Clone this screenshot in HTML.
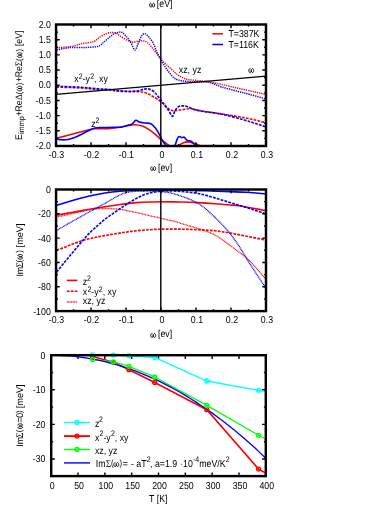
<!DOCTYPE html>
<html><head><meta charset="utf-8"><title>fig</title>
<style>
html,body{margin:0;padding:0;background:#fff;}
body{width:390px;height:505px;overflow:hidden;}
svg{display:block;will-change:transform;}
svg text.sy{font-family:"Liberation Serif",serif;}
svg text{white-space:pre;text-rendering:geometricPrecision;font-family:"Liberation Sans",sans-serif;font-size:8.8px;fill:#000;}
</style></head><body>
<svg width="390" height="505" viewBox="0 0 390 505">
<rect width="390" height="505" fill="#fff"/>
<clipPath id="c1"><rect x="56.05" y="24.50" width="209.95" height="121.50"/></clipPath>
<g clip-path="url(#c1)" fill="none">
<path d="M56.6 138.3C59.1 137.6 67.0 135.4 71.7 134.2C76.4 132.9 81.4 131.7 85.0 130.8C88.6 129.9 90.8 129.2 93.3 128.8C95.8 128.5 97.2 128.8 100.0 128.7C102.8 128.6 106.7 128.8 110.0 128.5C113.3 128.2 117.0 127.7 120.0 127.2C123.0 126.7 125.8 125.7 128.3 125.3C130.8 124.9 132.8 124.6 135.0 124.7C137.2 124.8 139.5 125.0 141.7 125.8C143.9 126.5 146.1 127.8 148.3 129.2C150.5 130.6 152.8 132.4 155.0 134.2C157.2 136.0 159.4 138.2 161.7 140.0C164.0 141.8 166.8 143.8 168.8 145.3C170.8 146.8 172.1 149.0 173.8 149.0C175.5 149.0 177.2 146.4 178.8 145.3C180.4 144.2 182.0 143.3 183.5 142.7C185.0 142.1 186.3 141.8 188.0 141.9C189.7 142.0 191.7 142.6 193.5 143.2C195.3 143.8 196.9 144.3 198.8 145.3C200.7 146.3 204.0 148.4 205.0 149.0" stroke="#ff0000" stroke-width="1.6"/>
<path d="M56.0 138.7C57.0 138.9 60.0 139.7 62.0 139.8C64.0 139.9 66.0 139.8 68.0 139.5C70.0 139.2 72.0 138.4 74.0 137.7C76.0 136.9 77.6 136.2 80.0 135.0C82.4 133.8 85.8 132.0 88.3 130.8C90.8 129.6 92.8 128.6 95.0 128.0C97.2 127.5 98.7 127.6 101.7 127.5C104.8 127.4 110.2 127.2 113.3 127.2C116.3 127.2 118.0 127.4 120.0 127.2C122.0 127.0 123.0 126.8 125.0 126.3C127.0 125.8 129.9 125.2 131.7 124.2C133.5 123.2 134.6 120.7 135.8 120.3C137.1 119.9 137.7 121.5 139.2 122.0C140.7 122.5 143.1 122.7 145.0 123.0C146.9 123.3 149.1 123.0 150.8 123.7C152.5 124.5 153.6 125.8 155.0 127.5C156.4 129.2 157.9 132.0 159.2 134.2C160.4 136.4 161.4 139.0 162.5 140.8C163.6 142.7 164.5 143.4 165.8 145.3C167.1 147.2 169.0 152.0 170.5 152.0C172.0 152.0 173.9 147.5 175.0 145.3C176.1 143.1 176.6 140.3 177.3 138.8C178.0 137.3 178.5 136.7 179.3 136.5C180.1 136.3 181.1 137.5 181.9 137.6C182.7 137.7 183.3 136.8 184.2 137.3C185.1 137.8 186.1 139.8 187.3 140.4C188.5 141.1 189.9 140.4 191.2 141.2C192.5 142.0 193.9 144.0 195.0 145.3C196.1 146.6 197.5 148.4 198.0 149.0" stroke="#0000ff" stroke-width="1.6"/>
<path d="M56.6 87.0C60.5 87.2 73.3 87.6 80.0 88.0C86.7 88.4 91.7 89.1 96.7 89.5C101.7 89.9 106.1 90.0 110.0 90.3C113.9 90.6 116.7 91.1 120.0 91.3C123.3 91.5 126.7 91.6 130.0 91.7C133.3 91.8 137.2 91.4 140.0 91.7C142.8 92.0 144.5 92.5 146.7 93.3C148.9 94.1 151.1 95.4 153.3 96.7C155.5 98.0 158.1 99.6 160.0 101.0C161.9 102.4 163.5 103.9 165.0 105.3C166.5 106.7 167.8 108.3 169.2 109.2C170.6 110.1 171.8 110.6 173.3 110.8C174.8 111.0 176.4 110.6 178.3 110.3C180.2 110.0 182.8 109.5 185.0 109.2C187.2 109.0 189.5 108.6 191.7 108.8C193.9 109.0 195.2 109.7 198.3 110.3C201.4 110.9 205.3 111.5 210.0 112.2C214.7 112.9 221.1 113.8 226.7 114.7C232.2 115.6 238.6 116.6 243.3 117.5C248.0 118.4 251.2 119.1 255.0 120.0C258.8 120.9 264.2 122.3 266.0 122.8" stroke="#ff0000" stroke-width="1.65" stroke-dasharray="2.8 1.2"/>
<path d="M56.6 86.3C60.5 86.5 73.3 86.8 80.0 87.2C86.7 87.6 91.7 88.3 96.7 88.7C101.7 89.1 106.1 89.2 110.0 89.5C113.9 89.8 116.7 90.5 120.0 90.8C123.3 91.1 127.0 91.3 130.0 91.3C133.1 91.3 135.9 91.2 138.3 90.8C140.7 90.4 142.4 89.4 144.2 89.1C146.0 88.8 147.5 88.6 149.2 89.1C150.9 89.6 152.7 90.7 154.2 92.0C155.7 93.3 156.8 94.8 158.3 96.7C159.8 98.6 161.6 101.1 163.3 103.3C165.0 105.5 166.8 107.8 168.3 110.0C169.8 112.2 171.4 116.2 172.5 116.3C173.6 116.4 174.0 112.4 175.0 110.8C176.0 109.2 176.9 107.5 178.3 106.7C179.7 105.9 181.6 105.8 183.3 105.8C185.0 105.8 186.4 106.3 188.3 107.0C190.2 107.7 192.2 108.9 195.0 109.7C197.8 110.5 201.7 111.2 205.0 111.7C208.3 112.2 211.4 112.4 215.0 113.0C218.6 113.6 222.0 114.2 226.7 115.3C231.4 116.4 238.6 118.4 243.3 119.7C248.0 121.0 251.2 122.1 255.0 123.3C258.8 124.5 264.2 126.4 266.0 127.0" stroke="#0000ff" stroke-width="1.65" stroke-dasharray="2.8 1.2"/>
<path d="M56.6 47.8C59.1 47.5 67.5 47.0 71.7 46.3C75.9 45.6 78.1 44.5 81.7 43.7C85.3 42.9 90.2 42.8 93.3 41.7C96.3 40.6 97.8 38.4 100.0 37.0C102.2 35.6 104.8 34.2 106.7 33.5C108.7 32.8 110.2 32.6 111.7 32.5C113.2 32.4 114.4 32.5 115.8 33.0C117.2 33.5 118.2 34.6 120.0 35.8C121.8 37.0 124.6 38.9 126.7 40.0C128.8 41.1 130.6 42.0 132.5 42.2C134.4 42.4 136.5 41.4 138.3 41.2C140.1 41.0 141.6 40.4 143.3 40.8C145.0 41.1 146.6 41.9 148.3 43.3C150.0 44.7 151.6 47.1 153.3 49.2C155.0 51.3 157.1 54.1 158.3 55.8C159.6 57.5 159.4 57.7 160.8 59.2C162.2 60.7 164.9 63.3 166.7 65.0C168.5 66.7 170.0 68.0 171.7 69.5C173.4 71.0 175.0 72.7 176.7 74.0C178.4 75.3 179.8 76.4 181.7 77.3C183.6 78.2 185.5 79.0 188.3 79.6C191.1 80.1 195.0 80.2 198.3 80.6C201.6 80.9 204.4 81.1 208.3 81.7C212.2 82.3 216.7 83.3 221.7 84.4C226.7 85.5 232.8 87.0 238.3 88.3C243.9 89.6 250.4 91.0 255.0 92.0C259.6 93.0 264.2 94.1 266.0 94.5" stroke="#ff0000" stroke-width="1.45" stroke-dasharray="1.3 0.95"/>
<path d="M56.6 50.0C58.0 49.7 62.5 48.7 65.0 48.3C67.5 47.9 68.4 47.6 71.7 47.5C75.0 47.4 80.6 47.7 85.0 47.5C89.4 47.3 95.2 47.1 98.3 46.3C101.3 45.5 101.6 43.8 103.3 42.5C105.0 41.2 106.6 39.7 108.3 38.3C110.0 36.9 111.8 35.2 113.3 34.2C114.8 33.2 116.1 32.8 117.5 32.5C118.9 32.2 120.3 31.7 121.7 32.2C123.1 32.8 124.3 34.1 125.8 35.8C127.3 37.5 129.3 40.1 130.8 42.5C132.3 44.9 133.8 49.9 135.0 50.0C136.2 50.1 137.2 45.7 138.3 43.3C139.4 40.9 140.6 37.4 141.7 35.8C142.8 34.2 143.8 33.4 145.0 33.7C146.2 34.0 147.8 35.9 149.2 37.5C150.6 39.1 152.1 40.9 153.3 43.3C154.6 45.7 155.4 49.1 156.7 51.7C157.9 54.4 159.4 56.7 160.8 59.2C162.2 61.7 163.6 64.5 165.0 66.7C166.4 68.9 167.8 70.7 169.2 72.5C170.6 74.3 171.8 76.0 173.3 77.3C174.8 78.5 175.8 79.3 178.3 80.0C180.8 80.7 184.4 81.2 188.3 81.5C192.2 81.8 198.1 81.8 201.7 82.0C205.3 82.2 206.7 81.8 210.0 82.6C213.3 83.4 217.0 85.5 221.7 87.0C226.4 88.5 233.6 90.2 238.3 91.5C243.0 92.8 245.4 93.2 250.0 94.5C254.6 95.8 263.3 98.2 266.0 99.0" stroke="#0000ff" stroke-width="1.45" stroke-dasharray="1.3 0.95"/>
</g>
<path d="M56.05 94.40L266.00 76.20" stroke="#000" stroke-width="1.3"/>
<path d="M160.80 24.50V146.00" stroke="#000" stroke-width="1.4"/>
<path d="M91.04 146.00v-3.70M91.04 24.50v3.70" stroke="#000" stroke-width="1.4" fill="none"/>
<path d="M126.03 146.00v-3.70M126.03 24.50v3.70" stroke="#000" stroke-width="1.4" fill="none"/>
<path d="M161.02 146.00v-3.70M161.02 24.50v3.70" stroke="#000" stroke-width="1.4" fill="none"/>
<path d="M196.02 146.00v-3.70M196.02 24.50v3.70" stroke="#000" stroke-width="1.4" fill="none"/>
<path d="M231.01 146.00v-3.70M231.01 24.50v3.70" stroke="#000" stroke-width="1.4" fill="none"/>
<path d="M73.55 146.00v-1.90M73.55 24.50v1.90" stroke="#000" stroke-width="1.4" fill="none"/>
<path d="M108.54 146.00v-1.90M108.54 24.50v1.90" stroke="#000" stroke-width="1.4" fill="none"/>
<path d="M143.53 146.00v-1.90M143.53 24.50v1.90" stroke="#000" stroke-width="1.4" fill="none"/>
<path d="M178.52 146.00v-1.90M178.52 24.50v1.90" stroke="#000" stroke-width="1.4" fill="none"/>
<path d="M213.51 146.00v-1.90M213.51 24.50v1.90" stroke="#000" stroke-width="1.4" fill="none"/>
<path d="M248.50 146.00v-1.90M248.50 24.50v1.90" stroke="#000" stroke-width="1.4" fill="none"/>
<path d="M56.05 130.81h3.70M266.00 130.81h-3.70" stroke="#000" stroke-width="1.4" fill="none"/>
<path d="M56.05 115.62h3.70M266.00 115.62h-3.70" stroke="#000" stroke-width="1.4" fill="none"/>
<path d="M56.05 100.44h3.70M266.00 100.44h-3.70" stroke="#000" stroke-width="1.4" fill="none"/>
<path d="M56.05 85.25h3.70M266.00 85.25h-3.70" stroke="#000" stroke-width="1.4" fill="none"/>
<path d="M56.05 70.06h3.70M266.00 70.06h-3.70" stroke="#000" stroke-width="1.4" fill="none"/>
<path d="M56.05 54.88h3.70M266.00 54.88h-3.70" stroke="#000" stroke-width="1.4" fill="none"/>
<path d="M56.05 39.69h3.70M266.00 39.69h-3.70" stroke="#000" stroke-width="1.4" fill="none"/>
<path d="M56.05 138.41h1.90M266.00 138.41h-1.90" stroke="#000" stroke-width="1.4" fill="none"/>
<path d="M56.05 123.22h1.90M266.00 123.22h-1.90" stroke="#000" stroke-width="1.4" fill="none"/>
<path d="M56.05 108.03h1.90M266.00 108.03h-1.90" stroke="#000" stroke-width="1.4" fill="none"/>
<path d="M56.05 92.84h1.90M266.00 92.84h-1.90" stroke="#000" stroke-width="1.4" fill="none"/>
<path d="M56.05 77.66h1.90M266.00 77.66h-1.90" stroke="#000" stroke-width="1.4" fill="none"/>
<path d="M56.05 62.47h1.90M266.00 62.47h-1.90" stroke="#000" stroke-width="1.4" fill="none"/>
<path d="M56.05 47.28h1.90M266.00 47.28h-1.90" stroke="#000" stroke-width="1.4" fill="none"/>
<path d="M56.05 32.09h1.90M266.00 32.09h-1.90" stroke="#000" stroke-width="1.4" fill="none"/>
<rect x="56.05" y="24.50" width="209.95" height="121.50" fill="none" stroke="#000" stroke-width="2.45"/>
<text transform="translate(50.90,149.40) scale(1.000,1.140)" text-anchor="end" >-2.0</text>
<text transform="translate(50.90,134.21) scale(1.000,1.140)" text-anchor="end" >-1.5</text>
<text transform="translate(50.90,119.03) scale(1.000,1.140)" text-anchor="end" >-1.0</text>
<text transform="translate(50.90,103.84) scale(1.000,1.140)" text-anchor="end" >-0.5</text>
<text transform="translate(50.90,88.25) scale(1.000,1.140)" text-anchor="end" >0.0</text>
<text transform="translate(50.90,73.46) scale(1.000,1.140)" text-anchor="end" >0.5</text>
<text transform="translate(50.90,58.27) scale(1.000,1.140)" text-anchor="end" >1.0</text>
<text transform="translate(50.90,43.09) scale(1.000,1.140)" text-anchor="end" >1.5</text>
<text transform="translate(50.90,27.90) scale(1.000,1.140)" text-anchor="end" >2.0</text>
<text transform="translate(56.45,157.90) scale(1.000,1.140)" text-anchor="middle" >-0.3</text>
<text transform="translate(91.44,157.90) scale(1.000,1.140)" text-anchor="middle" >-0.2</text>
<text transform="translate(126.43,157.90) scale(1.000,1.140)" text-anchor="middle" >-0.1</text>
<text transform="translate(161.92,157.90) scale(1.000,1.140)" text-anchor="middle" >0</text>
<text transform="translate(196.92,157.90) scale(1.000,1.140)" text-anchor="middle" >0.1</text>
<text transform="translate(231.91,157.90) scale(1.000,1.140)" text-anchor="middle" >0.2</text>
<text transform="translate(266.90,157.90) scale(1.000,1.140)" text-anchor="middle" >0.3</text>
<g transform="translate(160.80,7.00) scale(1,1.140) translate(-11.70,0)"><path d="M 1.70 -3.57 C 0.77 -3.41 0.25 -2.00 0.56 -0.91 C 0.82 0.14 2.12 0.38 2.59 -0.43 C 2.90 -0.99 2.95 -2.00 2.95 -2.69 C 2.95 -2.00 3.00 -0.99 3.31 -0.43 C 3.78 0.38 5.08 0.14 5.34 -0.91 C 5.65 -2.00 5.13 -3.41 4.20 -3.57" fill="none" stroke="#000" stroke-width="0.85" stroke-linecap="round"/><text x="5.30" y="0"> [eV]</text></g>
<g transform="translate(161.20,170.50) scale(1,1.140) translate(-10.96,0)"><path d="M 1.70 -3.57 C 0.77 -3.41 0.25 -2.00 0.56 -0.91 C 0.82 0.14 2.12 0.38 2.59 -0.43 C 2.90 -0.99 2.95 -2.00 2.95 -2.69 C 2.95 -2.00 3.00 -0.99 3.31 -0.43 C 3.78 0.38 5.08 0.14 5.34 -0.91 C 5.65 -2.00 5.13 -3.41 4.20 -3.57" fill="none" stroke="#000" stroke-width="0.85" stroke-linecap="round"/><text x="5.30" y="0"> [ev]</text></g>
<path d="M212.4 33.8H223" stroke="#ff0000" stroke-width="1.5"/>
<path d="M212.4 44.5H223" stroke="#0000ff" stroke-width="1.5"/>
<text transform="translate(228.40,36.60) scale(1.000,1.140)" text-anchor="start" >T=387K</text>
<text transform="translate(228.40,47.90) scale(1.000,1.140)" text-anchor="start" >T=116K</text>
<g transform="translate(74.20,82.10) scale(1,1.140) translate(0.00,0)"><text x="0.00" y="0">x</text><text x="4.60" y="-3.16" style="font-size:7.0px">2</text><text x="8.49" y="0">-y</text><text x="16.02" y="-3.16" style="font-size:7.0px">2</text><text x="19.92" y="0">, xy</text></g>
<text transform="translate(178.80,73.00) scale(1.000,1.140)" text-anchor="start" >xz, yz</text>
<g transform="translate(91.30,126.70) scale(1,1.140) translate(0.00,0)"><text x="0.00" y="0">z</text><text x="4.20" y="-3.16" style="font-size:7.0px">2</text></g>
<g transform="translate(248.30,72.50) scale(1,1.140) translate(0.00,0)"><path d="M 1.70 -3.57 C 0.77 -3.41 0.25 -2.00 0.56 -0.91 C 0.82 0.14 2.12 0.38 2.59 -0.43 C 2.90 -0.99 2.95 -2.00 2.95 -2.69 C 2.95 -2.00 3.00 -0.99 3.31 -0.43 C 3.78 0.38 5.08 0.14 5.34 -0.91 C 5.65 -2.00 5.13 -3.41 4.20 -3.57" fill="none" stroke="#000" stroke-width="0.85" stroke-linecap="round"/></g>
<g transform="translate(22.00,140.10) rotate(-90) scale(1,1.090) translate(0.00,0)"><text x="0.00" y="0">E</text><text x="6.10" y="2.11" style="font-size:7.3px">immp</text><text x="23.95" y="0">+</text><text x="28.50" y="0">Re</text><text x="40.10" y="0" class="sy" style="font-size:9px">Δ</text><text x="45.85" y="-0.20" style="font-size:7.8px">(</text><path d="M 50.37 -4.51 C 49.49 -4.31 49.00 -2.55 49.30 -1.18 C 49.54 0.13 50.77 0.43 51.21 -0.58 C 51.50 -1.28 51.55 -2.55 51.55 -3.40 C 51.55 -2.55 51.60 -1.28 51.89 -0.58 C 52.33 0.43 53.56 0.13 53.80 -1.18 C 54.10 -2.55 53.61 -4.31 52.73 -4.51" fill="none" stroke="#000" stroke-width="0.85" stroke-linecap="round"/><text x="54.80" y="-0.20" style="font-size:7.8px">)</text><text x="58.05" y="0">+</text><text x="62.80" y="0">Re</text><text x="73.90" y="0" class="sy" style="font-size:9.1px">Σ</text><text x="79.20" y="-0.20" style="font-size:7.8px">(</text><path d="M 83.87 -4.51 C 82.99 -4.31 82.50 -2.55 82.80 -1.18 C 83.04 0.13 84.27 0.43 84.71 -0.58 C 85.00 -1.28 85.05 -2.55 85.05 -3.40 C 85.05 -2.55 85.10 -1.28 85.39 -0.58 C 85.83 0.43 87.06 0.13 87.30 -1.18 C 87.60 -2.55 87.11 -4.31 86.23 -4.51" fill="none" stroke="#000" stroke-width="0.85" stroke-linecap="round"/><text x="88.50" y="-0.20" style="font-size:7.8px">)</text><text x="93.95" y="0">[eV]</text></g>
<clipPath id="c2"><rect x="56.05" y="189.50" width="209.95" height="121.60"/></clipPath>
<g clip-path="url(#c2)" fill="none">
<path d="M56.6 215.2C59.1 214.8 66.4 213.4 71.7 212.5C77.0 211.6 82.8 210.5 88.3 209.5C93.8 208.5 99.7 207.5 105.0 206.7C110.3 205.9 114.7 205.2 120.0 204.5C125.3 203.8 131.7 203.0 136.7 202.6C141.7 202.2 145.8 202.1 150.0 202.0C154.2 201.9 156.4 201.8 161.7 201.8C167.0 201.8 175.6 201.9 181.7 202.0C187.8 202.1 192.8 202.3 198.3 202.6C203.9 202.9 209.7 203.3 215.0 203.7C220.3 204.1 226.1 204.7 230.0 205.0C233.9 205.3 234.7 205.3 238.3 205.8C241.9 206.3 247.1 207.2 251.7 208.0C256.3 208.8 263.6 210.2 266.0 210.7" stroke="#ff0000" stroke-width="1.6"/>
<path d="M56.6 250.3C58.5 249.6 64.1 247.4 68.3 245.8C72.5 244.2 77.2 242.2 81.7 240.8C86.2 239.4 90.6 238.5 95.0 237.5C99.4 236.5 103.6 235.8 108.3 235.0C113.0 234.2 118.6 233.2 123.3 232.5C128.0 231.8 132.2 231.3 136.7 230.8C141.1 230.3 145.8 230.0 150.0 229.7C154.2 229.4 156.4 229.3 161.7 229.2C167.0 229.1 175.6 229.1 181.7 229.2C187.8 229.3 192.8 229.4 198.3 229.7C203.9 230.0 209.7 230.2 215.0 230.8C220.3 231.4 224.7 232.1 230.0 233.0C235.3 233.9 240.7 235.1 246.7 236.3C252.7 237.5 262.8 239.4 266.0 240.0" stroke="#ff0000" stroke-width="1.65" stroke-dasharray="2.8 1.2"/>
<path d="M56.6 216.9C59.1 216.4 66.4 214.8 71.7 213.7C77.0 212.5 84.1 210.8 88.3 210.0C92.5 209.2 93.9 209.1 96.7 208.8C99.5 208.6 101.1 208.4 105.0 208.5C108.9 208.6 115.8 208.8 120.0 209.3C124.2 209.8 126.7 210.6 130.0 211.3C133.3 212.0 136.7 212.6 140.0 213.3C143.3 214.1 146.7 215.0 150.0 215.8C153.3 216.6 156.9 217.3 160.0 218.0C163.1 218.7 165.8 219.4 168.3 220.0C170.8 220.6 172.2 220.7 175.0 221.5C177.8 222.3 181.7 223.7 185.0 224.7C188.3 225.7 191.7 226.5 195.0 227.5C198.3 228.5 201.7 229.6 205.0 230.8C208.3 232.1 211.7 233.2 215.0 235.0C218.3 236.8 221.7 239.3 225.0 241.7C228.3 244.1 231.7 246.7 235.0 249.2C238.3 251.7 241.7 253.8 245.0 256.7C248.3 259.6 251.5 262.9 255.0 266.7C258.5 270.5 264.2 277.4 266.0 279.5" stroke="#ff0000" stroke-width="1.35" stroke-dasharray="0.9 0.6"/>
<path d="M56.6 205.3C59.1 204.6 66.4 202.3 71.7 200.8C77.0 199.3 82.8 197.6 88.3 196.3C93.8 195.0 99.7 193.8 105.0 193.0C110.3 192.2 115.8 191.6 120.0 191.2C124.2 190.8 125.8 190.8 130.0 190.6C134.2 190.4 137.5 190.2 145.0 190.1C152.5 190.0 165.0 189.9 175.0 190.0C185.0 190.1 195.8 190.5 205.0 190.8C214.2 191.1 223.1 191.4 230.0 191.7C236.9 191.9 240.7 191.9 246.7 192.3C252.7 192.7 262.8 193.7 266.0 194.0" stroke="#0000ff" stroke-width="1.6"/>
<path d="M56.6 272.0C58.0 270.3 62.2 265.1 65.0 261.7C67.8 258.3 70.5 255.0 73.3 251.7C76.1 248.4 78.9 244.9 81.7 241.7C84.5 238.5 87.2 235.3 90.0 232.5C92.8 229.7 95.8 227.2 98.3 225.0C100.8 222.8 102.5 221.1 105.0 219.2C107.5 217.2 110.8 215.1 113.3 213.3C115.8 211.6 117.8 210.2 120.0 208.7C122.2 207.2 124.2 205.8 126.7 204.2C129.2 202.6 132.2 200.7 135.0 199.2C137.8 197.7 140.5 196.1 143.3 195.0C146.1 193.9 148.9 193.1 151.7 192.5C154.5 191.9 157.2 191.6 160.0 191.3C162.8 191.0 164.7 190.8 168.3 190.8C171.9 190.8 177.2 191.1 181.7 191.5C186.1 191.9 190.8 192.3 195.0 193.0C199.2 193.7 202.2 194.3 206.7 195.5C211.1 196.7 216.4 198.4 221.7 200.0C227.0 201.6 233.3 203.5 238.3 205.0C243.3 206.5 247.1 207.7 251.7 209.2C256.3 210.7 263.6 213.2 266.0 214.0" stroke="#0000ff" stroke-width="1.65" stroke-dasharray="2.8 1.2"/>
<path d="M56.6 230.5C59.1 229.0 66.4 224.7 71.7 221.7C77.0 218.7 82.8 215.6 88.3 212.5C93.8 209.4 100.0 206.1 105.0 203.3C110.0 200.5 114.7 197.6 118.3 195.8C121.9 194.0 123.9 193.2 126.7 192.5C129.5 191.8 131.7 191.6 135.0 191.3C138.3 191.1 142.5 190.9 146.7 191.0C150.9 191.1 156.4 191.4 160.0 191.7C163.6 191.9 165.8 192.1 168.3 192.5C170.8 192.9 172.2 193.4 175.0 194.2C177.8 195.0 181.7 196.2 185.0 197.5C188.3 198.8 191.7 199.9 195.0 201.7C198.3 203.5 201.7 205.7 205.0 208.3C208.3 210.9 211.9 214.6 215.0 217.5C218.1 220.4 220.8 223.1 223.3 225.8C225.8 228.5 227.5 230.3 230.0 233.5C232.5 236.7 235.8 241.3 238.3 245.0C240.8 248.7 242.8 252.2 245.0 255.8C247.2 259.4 249.5 263.2 251.7 266.7C253.9 270.2 255.9 273.1 258.3 276.7C260.7 280.3 264.7 286.5 266.0 288.5" stroke="#0000ff" stroke-width="1.35" stroke-dasharray="0.9 0.6"/>
</g>
<path d="M160.80 189.50V311.10" stroke="#000" stroke-width="1.4"/>
<path d="M91.04 311.10v-3.70M91.04 189.50v3.70" stroke="#000" stroke-width="1.4" fill="none"/>
<path d="M126.03 311.10v-3.70M126.03 189.50v3.70" stroke="#000" stroke-width="1.4" fill="none"/>
<path d="M161.02 311.10v-3.70M161.02 189.50v3.70" stroke="#000" stroke-width="1.4" fill="none"/>
<path d="M196.02 311.10v-3.70M196.02 189.50v3.70" stroke="#000" stroke-width="1.4" fill="none"/>
<path d="M231.01 311.10v-3.70M231.01 189.50v3.70" stroke="#000" stroke-width="1.4" fill="none"/>
<path d="M73.55 311.10v-1.90M73.55 189.50v1.90" stroke="#000" stroke-width="1.4" fill="none"/>
<path d="M108.54 311.10v-1.90M108.54 189.50v1.90" stroke="#000" stroke-width="1.4" fill="none"/>
<path d="M143.53 311.10v-1.90M143.53 189.50v1.90" stroke="#000" stroke-width="1.4" fill="none"/>
<path d="M178.52 311.10v-1.90M178.52 189.50v1.90" stroke="#000" stroke-width="1.4" fill="none"/>
<path d="M213.51 311.10v-1.90M213.51 189.50v1.90" stroke="#000" stroke-width="1.4" fill="none"/>
<path d="M248.50 311.10v-1.90M248.50 189.50v1.90" stroke="#000" stroke-width="1.4" fill="none"/>
<path d="M56.05 286.78h3.70M266.00 286.78h-3.70" stroke="#000" stroke-width="1.4" fill="none"/>
<path d="M56.05 262.46h3.70M266.00 262.46h-3.70" stroke="#000" stroke-width="1.4" fill="none"/>
<path d="M56.05 238.14h3.70M266.00 238.14h-3.70" stroke="#000" stroke-width="1.4" fill="none"/>
<path d="M56.05 213.82h3.70M266.00 213.82h-3.70" stroke="#000" stroke-width="1.4" fill="none"/>
<path d="M56.05 298.94h1.90M266.00 298.94h-1.90" stroke="#000" stroke-width="1.4" fill="none"/>
<path d="M56.05 274.62h1.90M266.00 274.62h-1.90" stroke="#000" stroke-width="1.4" fill="none"/>
<path d="M56.05 250.30h1.90M266.00 250.30h-1.90" stroke="#000" stroke-width="1.4" fill="none"/>
<path d="M56.05 225.98h1.90M266.00 225.98h-1.90" stroke="#000" stroke-width="1.4" fill="none"/>
<path d="M56.05 201.66h1.90M266.00 201.66h-1.90" stroke="#000" stroke-width="1.4" fill="none"/>
<rect x="56.05" y="189.50" width="209.95" height="121.60" fill="none" stroke="#000" stroke-width="2.45"/>
<text transform="translate(50.80,314.50) scale(1.000,1.140)" text-anchor="end" >-100</text>
<text transform="translate(50.80,290.18) scale(1.000,1.140)" text-anchor="end" >-80</text>
<text transform="translate(50.80,265.86) scale(1.000,1.140)" text-anchor="end" >-60</text>
<text transform="translate(50.80,241.54) scale(1.000,1.140)" text-anchor="end" >-40</text>
<text transform="translate(50.80,217.22) scale(1.000,1.140)" text-anchor="end" >-20</text>
<text transform="translate(50.80,192.90) scale(1.000,1.140)" text-anchor="end" >0</text>
<text transform="translate(56.45,323.00) scale(1.000,1.140)" text-anchor="middle" >-0.3</text>
<text transform="translate(91.44,323.00) scale(1.000,1.140)" text-anchor="middle" >-0.2</text>
<text transform="translate(126.43,323.00) scale(1.000,1.140)" text-anchor="middle" >-0.1</text>
<text transform="translate(161.92,323.00) scale(1.000,1.140)" text-anchor="middle" >0</text>
<text transform="translate(196.92,323.00) scale(1.000,1.140)" text-anchor="middle" >0.1</text>
<text transform="translate(231.91,323.00) scale(1.000,1.140)" text-anchor="middle" >0.2</text>
<text transform="translate(266.90,323.00) scale(1.000,1.140)" text-anchor="middle" >0.3</text>
<g transform="translate(161.20,337.40) scale(1,1.140) translate(-10.96,0)"><path d="M 1.70 -3.57 C 0.77 -3.41 0.25 -2.00 0.56 -0.91 C 0.82 0.14 2.12 0.38 2.59 -0.43 C 2.90 -0.99 2.95 -2.00 2.95 -2.69 C 2.95 -2.00 3.00 -0.99 3.31 -0.43 C 3.78 0.38 5.08 0.14 5.34 -0.91 C 5.65 -2.00 5.13 -3.41 4.20 -3.57" fill="none" stroke="#000" stroke-width="0.85" stroke-linecap="round"/><text x="5.30" y="0"> [ev]</text></g>
<path d="M66.8 280.4H77.4" stroke="#ff0000" stroke-width="1.6"/>
<path d="M66.8 291.2H77.4" stroke="#ff0000" stroke-width="1.65" stroke-dasharray="2.8 1.2"/>
<path d="M66.8 302H77.4" stroke="#ff0000" stroke-width="1.35" stroke-dasharray="0.9 0.6"/>
<g transform="translate(82.80,284.70) scale(1,1.140) translate(0.00,0)"><text x="0.00" y="0">z</text><text x="4.20" y="-3.16" style="font-size:7.0px">2</text></g>
<g transform="translate(82.80,295.20) scale(1,1.140) translate(0.00,0)"><text x="0.00" y="0">x</text><text x="4.60" y="-3.16" style="font-size:7.0px">2</text><text x="8.49" y="0">-y</text><text x="16.02" y="-3.16" style="font-size:7.0px">2</text><text x="19.92" y="0">, xy</text></g>
<text transform="translate(82.80,304.40) scale(1.000,1.140)" text-anchor="start" >xz, yz</text>
<g transform="translate(22.50,276.60) rotate(-90) scale(1,1.090) translate(0.00,0)"><text x="0.00" y="0">Im</text><text x="9.00" y="0" class="sy" style="font-size:9.1px">Σ</text><text x="14.10" y="-0.20" style="font-size:7.8px">(</text><path d="M 18.57 -4.51 C 17.69 -4.31 17.20 -2.55 17.50 -1.18 C 17.74 0.13 18.97 0.43 19.41 -0.58 C 19.70 -1.28 19.75 -2.55 19.75 -3.40 C 19.75 -2.55 19.80 -1.28 20.09 -0.58 C 20.53 0.43 21.76 0.13 22.00 -1.18 C 22.30 -2.55 21.81 -4.31 20.93 -4.51" fill="none" stroke="#000" stroke-width="0.85" stroke-linecap="round"/><text x="23.90" y="-0.20" style="font-size:7.8px">)</text><text transform="translate(29.20,0) scale(1.040,1)">[meV]</text></g>
<path d="M78.03 476.10v-3.70M78.03 355.20v3.70" stroke="#000" stroke-width="1.4" fill="none"/>
<path d="M104.85 476.10v-3.70M104.85 355.20v3.70" stroke="#000" stroke-width="1.4" fill="none"/>
<path d="M131.68 476.10v-3.70M131.68 355.20v3.70" stroke="#000" stroke-width="1.4" fill="none"/>
<path d="M158.50 476.10v-3.70M158.50 355.20v3.70" stroke="#000" stroke-width="1.4" fill="none"/>
<path d="M185.32 476.10v-3.70M185.32 355.20v3.70" stroke="#000" stroke-width="1.4" fill="none"/>
<path d="M212.15 476.10v-3.70M212.15 355.20v3.70" stroke="#000" stroke-width="1.4" fill="none"/>
<path d="M238.98 476.10v-3.70M238.98 355.20v3.70" stroke="#000" stroke-width="1.4" fill="none"/>
<path d="M51.20 459.00h3.70M265.80 459.00h-3.70" stroke="#000" stroke-width="1.4" fill="none"/>
<path d="M51.20 424.40h3.70M265.80 424.40h-3.70" stroke="#000" stroke-width="1.4" fill="none"/>
<path d="M51.20 389.80h3.70M265.80 389.80h-3.70" stroke="#000" stroke-width="1.4" fill="none"/>
<path d="M51.20 441.70h1.90M265.80 441.70h-1.90" stroke="#000" stroke-width="1.4" fill="none"/>
<path d="M51.20 407.10h1.90M265.80 407.10h-1.90" stroke="#000" stroke-width="1.4" fill="none"/>
<path d="M51.20 372.50h1.90M265.80 372.50h-1.90" stroke="#000" stroke-width="1.4" fill="none"/>
<clipPath id="c3"><rect x="51.20" y="350.20" width="214.60" height="125.90"/></clipPath>
<g clip-path="url(#c3)" fill="none" stroke-width="1.3">
<path d="M92.5 354.8L113.4 355.1L129.0 355.8L154.7 357.5L206.8 381.0L258.6 390.3L265.8 391.5" stroke="#00ffff"/>
<path d="M92.5 356.6L113.4 362.3L129.0 369.7L154.7 382.5L206.8 409.7L258.6 469.1L265.8 473.1" stroke="#ff0000" stroke-width="1.6"/>
<path d="M92.5 359.5L113.4 361.9L129.0 366.3L154.7 377.0L206.8 405.4L258.6 435.3L265.8 439.3" stroke="#00ff00"/>
<path d="M51.2 355.2L56.6 355.3L61.9 355.5L67.3 355.8L72.7 356.2L78.0 356.8L83.4 357.5L88.8 358.4L94.1 359.3L99.5 360.4L104.9 361.6L110.2 363.0L115.6 364.5L120.9 366.1L126.3 367.8L131.7 369.7L137.0 371.7L142.4 373.8L147.8 376.1L153.1 378.4L158.5 380.9L163.9 383.6L169.2 386.3L174.6 389.2L180.0 392.3L185.3 395.4L190.7 398.7L196.1 402.1L201.4 405.7L206.8 409.3L212.2 413.1L217.5 417.0L222.9 421.1L228.2 425.3L233.6 429.6L239.0 434.0L244.3 438.6L249.7 443.3L255.1 448.1L260.4 453.1L265.8 458.2" stroke="#0000ff"/>
</g>
<circle cx="92.5" cy="354.8" r="2.0" fill="#00ffff" fill-opacity="0.35" stroke="#00ffff" stroke-width="1.3"/>
<circle cx="113.4" cy="355.1" r="2.0" fill="#00ffff" fill-opacity="0.35" stroke="#00ffff" stroke-width="1.3"/>
<circle cx="129.0" cy="355.8" r="2.0" fill="#00ffff" fill-opacity="0.35" stroke="#00ffff" stroke-width="1.3"/>
<circle cx="154.7" cy="357.5" r="2.0" fill="#00ffff" fill-opacity="0.35" stroke="#00ffff" stroke-width="1.3"/>
<circle cx="206.8" cy="381.0" r="2.0" fill="#00ffff" fill-opacity="0.35" stroke="#00ffff" stroke-width="1.3"/>
<circle cx="258.6" cy="390.3" r="2.0" fill="#00ffff" fill-opacity="0.35" stroke="#00ffff" stroke-width="1.3"/>
<circle cx="92.5" cy="356.6" r="2.0" fill="#ff0000" fill-opacity="0.35" stroke="#ff0000" stroke-width="1.3"/>
<circle cx="113.4" cy="362.3" r="2.0" fill="#ff0000" fill-opacity="0.35" stroke="#ff0000" stroke-width="1.3"/>
<circle cx="129.0" cy="369.7" r="2.0" fill="#ff0000" fill-opacity="0.35" stroke="#ff0000" stroke-width="1.3"/>
<circle cx="154.7" cy="382.5" r="2.0" fill="#ff0000" fill-opacity="0.35" stroke="#ff0000" stroke-width="1.3"/>
<circle cx="206.8" cy="409.7" r="2.0" fill="#ff0000" fill-opacity="0.35" stroke="#ff0000" stroke-width="1.3"/>
<circle cx="258.6" cy="469.1" r="2.0" fill="#ff0000" fill-opacity="0.35" stroke="#ff0000" stroke-width="1.3"/>
<circle cx="92.5" cy="359.5" r="2.0" fill="#00ff00" fill-opacity="0.35" stroke="#00ff00" stroke-width="1.3"/>
<circle cx="113.4" cy="361.9" r="2.0" fill="#00ff00" fill-opacity="0.35" stroke="#00ff00" stroke-width="1.3"/>
<circle cx="129.0" cy="366.3" r="2.0" fill="#00ff00" fill-opacity="0.35" stroke="#00ff00" stroke-width="1.3"/>
<circle cx="154.7" cy="377.0" r="2.0" fill="#00ff00" fill-opacity="0.35" stroke="#00ff00" stroke-width="1.3"/>
<circle cx="206.8" cy="405.4" r="2.0" fill="#00ff00" fill-opacity="0.35" stroke="#00ff00" stroke-width="1.3"/>
<circle cx="258.6" cy="435.3" r="2.0" fill="#00ff00" fill-opacity="0.35" stroke="#00ff00" stroke-width="1.3"/>
<rect x="51.20" y="355.20" width="214.60" height="120.90" fill="none" stroke="#000" stroke-width="2.45"/>
<text transform="translate(45.50,358.90) scale(1.000,1.140)" text-anchor="end" >0</text>
<text transform="translate(45.50,392.60) scale(1.000,1.140)" text-anchor="end" >-10</text>
<text transform="translate(45.50,428.10) scale(1.000,1.140)" text-anchor="end" >-20</text>
<text transform="translate(45.50,462.10) scale(1.000,1.140)" text-anchor="end" >-30</text>
<text transform="translate(52.20,488.60) scale(1.000,1.140)" text-anchor="middle" >0</text>
<text transform="translate(79.03,488.60) scale(1.000,1.140)" text-anchor="middle" >50</text>
<text transform="translate(105.85,488.60) scale(1.000,1.140)" text-anchor="middle" >100</text>
<text transform="translate(132.68,488.60) scale(1.000,1.140)" text-anchor="middle" >150</text>
<text transform="translate(159.50,488.60) scale(1.000,1.140)" text-anchor="middle" >200</text>
<text transform="translate(186.33,488.60) scale(1.000,1.140)" text-anchor="middle" >250</text>
<text transform="translate(213.15,488.60) scale(1.000,1.140)" text-anchor="middle" >300</text>
<text transform="translate(239.98,488.60) scale(1.000,1.140)" text-anchor="middle" >350</text>
<text transform="translate(266.80,488.60) scale(1.000,1.140)" text-anchor="middle" >400</text>
<text transform="translate(158.30,502.10) scale(1.000,1.140)" text-anchor="middle" >T [K]</text>
<path d="M64 422.5H90" stroke="#00ffff" stroke-width="1.4"/>
<path d="M64 436.1H90" stroke="#ff0000" stroke-width="1.9"/>
<path d="M64 449.5H90" stroke="#00ff00" stroke-width="1.4"/>
<path d="M64 462.9H90" stroke="#0000ff" stroke-width="1.4"/>
<circle cx="77" cy="422.5" r="2.0" fill="#00ffff" fill-opacity="0.35" stroke="#00ffff" stroke-width="1.3"/>
<circle cx="77" cy="436.1" r="2.0" fill="#ff0000" fill-opacity="0.35" stroke="#ff0000" stroke-width="1.3"/>
<circle cx="77" cy="449.5" r="2.0" fill="#00ff00" fill-opacity="0.35" stroke="#00ff00" stroke-width="1.3"/>
<g transform="translate(94.90,427.00) scale(1,1.140) translate(0.00,0)"><text x="0.00" y="0">z</text><text x="4.20" y="-4.39" style="font-size:7.0px">2</text></g>
<g transform="translate(94.90,440.50) scale(1,1.140) translate(0.00,0)"><text x="0.00" y="0">x</text><text x="4.60" y="-4.39" style="font-size:7.0px">2</text><text x="8.49" y="0">-y</text><text x="16.02" y="-4.39" style="font-size:7.0px">2</text><text x="19.92" y="0">, xy</text></g>
<text transform="translate(94.90,453.50) scale(1.000,1.140)" text-anchor="start" >xz, yz</text>
<g transform="translate(95.80,466.50) scale(1,1.140) translate(0.00,0)"><text x="0.00" y="0">Im</text><text x="9.88" y="0" class="sy" style="font-size:9.1px">Σ</text><text x="15.28" y="-0.20" style="font-size:7.8px">(</text><path d="M 19.27 -3.57 C 18.34 -3.41 17.82 -2.00 18.13 -0.91 C 18.39 0.14 19.69 0.38 20.16 -0.43 C 20.47 -0.99 20.52 -2.00 20.52 -2.69 C 20.52 -2.00 20.57 -0.99 20.89 -0.43 C 21.35 0.38 22.65 0.14 22.91 -0.91 C 23.23 -2.00 22.71 -3.41 21.77 -3.57" fill="none" stroke="#000" stroke-width="0.85" stroke-linecap="round"/><text x="23.67" y="-0.20" style="font-size:7.8px">)</text><text x="26.87" y="0">= </text><text x="35.15" y="0">- aT</text><text x="51.00" y="-4.39" style="font-size:7.0px">2</text><text x="54.19" y="0">, a=1.9 </text><text x="84.39" y="0">·</text><text x="87.22" y="0">10</text><text x="97.21" y="-4.39" style="font-size:7.0px">-4</text><text x="103.44" y="0">meV/K</text><text x="130.05" y="-4.39" style="font-size:7.0px">2</text></g>
<g transform="translate(22.50,446.80) rotate(-90) scale(1,1.090) translate(0.00,0)"><text x="0.00" y="0">Im</text><text x="9.10" y="0" class="sy" style="font-size:9.1px">Σ</text><text x="14.50" y="-0.20" style="font-size:7.8px">(</text><path d="M 19.47 -4.51 C 18.59 -4.31 18.10 -2.55 18.40 -1.18 C 18.64 0.13 19.87 0.43 20.31 -0.58 C 20.60 -1.28 20.65 -2.55 20.65 -3.40 C 20.65 -2.55 20.70 -1.28 20.99 -0.58 C 21.43 0.43 22.66 0.13 22.90 -1.18 C 23.20 -2.55 22.71 -4.31 21.83 -4.51" fill="none" stroke="#000" stroke-width="0.85" stroke-linecap="round"/><text x="24.00" y="0">=0</text><text x="33.70" y="-0.20" style="font-size:7.8px">)</text><text transform="translate(38.60,0) scale(1.035,1)">[meV]</text></g>
</svg>
</body></html>
